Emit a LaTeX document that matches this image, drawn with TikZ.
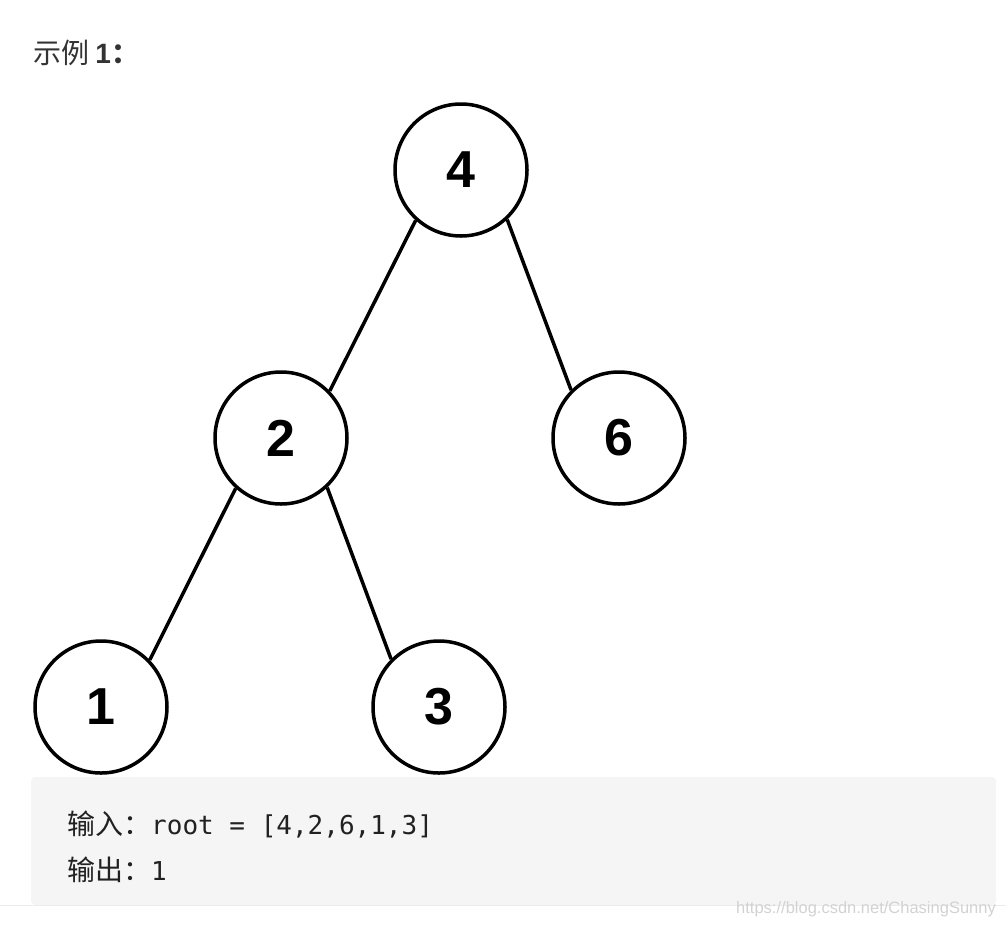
\documentclass[tikz,border=0pt]{standalone}
\usepackage{fontspec}
\setmainfont{Liberation Sans}
\newfontfamily\cjk{Noto Sans CJK SC}
\newfontfamily\mono{DejaVu Sans Mono}
\definecolor{boxgray}{HTML}{F5F5F5}
\definecolor{rulegray}{HTML}{EBEBEB}
\definecolor{txt}{HTML}{333333}
\definecolor{wm}{HTML}{D2D2D2}
\tikzset{
  treenode/.style={circle,draw=black,line width=3.5pt,minimum size=132pt,inner sep=0pt,
    font=\fontsize{52}{54}\selectfont\bfseries},
  edge/.style={line width=3.5pt,draw=black},
}
\begin{document}
\begin{tikzpicture}[x=1pt,y=-1pt]
\useasboundingbox (0,0) rectangle (1006,927);
% title
\node[anchor=west,inner sep=0pt,text=txt] (title) at (33,53)
  {\cjk\fontsize{28}{30}\selectfont 示例 \fontspec{Liberation Sans}\bfseries 1\cjk：};
% code box
\draw[rulegray,line width=1pt] (0,905.5) -- (1006,905.5);
\fill[boxgray,rounded corners=4pt] (31,777) rectangle (996,905);
\node[anchor=base west,inner sep=0pt,text=black!87] (in) at (67,834)
  {{\cjk\fontsize{28}{30}\selectfont 输入：}{\mono\fontsize{26}{30}\selectfont root = [4,2,6,1,3]}};
\node[anchor=base west,inner sep=0pt,text=black!87] (out) at (67,880)
  {{\cjk\fontsize{28}{30}\selectfont 输出：}{\mono\fontsize{26}{30}\selectfont 1}};
\node[anchor=east,inner sep=0pt,text=wm,font=\fontsize{16.5}{18}\selectfont] (wmark) at (996,909)
  {https://blog.csdn.net/ChasingSunny};
% tree
\node[treenode] (n4) at (461,170) {4};
\node[treenode] (n2) at (281,438) {2};
\node[treenode] (n6) at (619,438) {6};
\node[treenode] (n1) at (101,707) {1};
\node[treenode] (n3) at (439,707) {3};
\draw[edge] (n4.228) -- (n2.44);
\draw[edge] (n4.313) -- (n6.135);
\draw[edge] (n2.228) -- (n1.44);
\draw[edge] (n2.313) -- (n3.135);
\end{tikzpicture}
\end{document}
